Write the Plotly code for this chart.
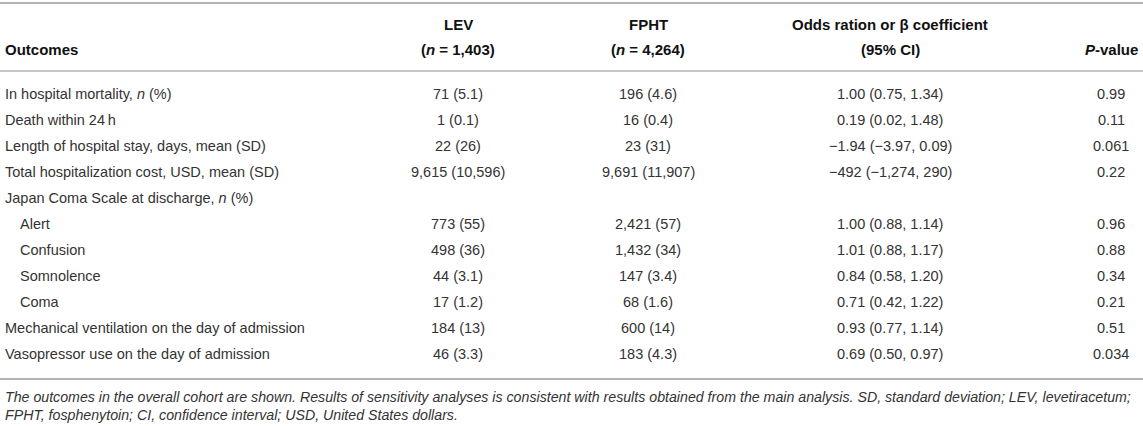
import plotly.graph_objects as go

# table content
outcomes = [
    "In hospital mortality, <i>n</i> (%)",
    "Death within 24\u2009h",
    "Length of hospital stay, days, mean (SD)",
    "Total hospitalization cost, USD, mean (SD)",
    "Japan Coma Scale at discharge, <i>n</i> (%)",
    "Alert",
    "Confusion",
    "Somnolence",
    "Coma",
    "Mechanical ventilation on the day of admission",
    "Vasopressor use on the day of admission",
]
indented = [False, False, False, False, False, True, True, True, True, False, False]

lev = ["71 (5.1)", "1 (0.1)", "22 (26)", "9,615 (10,596)", "",
       "773 (55)", "498 (36)", "44 (3.1)", "17 (1.2)", "184 (13)", "46 (3.3)"]
fpht = ["196 (4.6)", "16 (0.4)", "23 (31)", "9,691 (11,907)", "",
        "2,421 (57)", "1,432 (34)", "147 (3.4)", "68 (1.6)", "600 (14)", "183 (4.3)"]
or_ci = ["1.00 (0.75, 1.34)", "0.19 (0.02, 1.48)", "\u22121.94 (\u22123.97, 0.09)",
         "\u2212492 (\u22121,274, 290)", "",
         "1.00 (0.88, 1.14)", "1.01 (0.88, 1.17)", "0.84 (0.58, 1.20)",
         "0.71 (0.42, 1.22)", "0.93 (0.77, 1.14)", "0.69 (0.50, 0.97)"]
pvals = ["0.99", "0.11", "0.061", "0.22", "", "0.96", "0.88", "0.34", "0.21", "0.51", "0.034"]

header_top = ["", "LEV", "FPHT", "Odds ration or \u03b2 coefficient", ""]
header_bot = ["Outcomes", "(<i>n</i> = 1,403)", "(<i>n</i> = 4,264)", "(95% CI)", "<i>P</i>-value"]

footnote = [
    "The outcomes in the overall cohort are shown. Results of sensitivity analyses is consistent with "
    "results obtained from the main analysis. SD, standard deviation; LEV, levetiracetum;",
    "FPHT, fosphenytoin; CI, confidence interval; USD, United States dollars.",
]

W, H = 1143, 426
col_x = [3, 458, 648, 890, 1111]
row0, row_h = 94, 26
FONT = "Liberation Sans, Arial, Helvetica, sans-serif"
BODY = "#333333"
RULE = "#b3b3b3"

fig = go.Figure()
ann = []

# header
for i in range(5):
    anchor = "left" if i == 0 else "center"
    if header_top[i]:
        ann.append(dict(x=col_x[i], y=24, text="<b>%s</b>" % header_top[i], xanchor=anchor,
                        font=dict(size=15, color="#111111")))
    ann.append(dict(x=col_x[i], y=49, text="<b>%s</b>" % header_bot[i], xanchor=anchor,
                    font=dict(size=15, color="#111111")))

# body rows
for r, name in enumerate(outcomes):
    y = row0 + row_h * r
    ann.append(dict(x=col_x[0] + (15 if indented[r] else 0), y=y, text=name, xanchor="left",
                    font=dict(size=14.5, color=BODY)))
    for c, col in enumerate([lev, fpht, or_ci, pvals], start=1):
        if col[r]:
            ann.append(dict(x=col_x[c], y=y, text=col[r], xanchor="center",
                            font=dict(size=14.5, color=BODY)))

# footnote
for k, line in enumerate(footnote):
    ann.append(dict(x=3, y=397 + 18 * k, text="<i>%s</i>" % line, xanchor="left",
                    font=dict(size=14.2, color=BODY)))

for a in ann:
    a.update(xref="x", yref="y", yanchor="middle", showarrow=False)
    a["font"]["family"] = FONT

shapes = [
    dict(type="line", x0=0, x1=W, y0=3, y1=3, line=dict(color=RULE, width=2)),
    dict(type="line", x0=0, x1=W, y0=71, y1=71, line=dict(color=RULE, width=1.5)),
    dict(type="line", x0=0, x1=W, y0=379, y1=379, line=dict(color=RULE, width=2)),
]
for s in shapes:
    s.update(xref="x", yref="y")

fig.update_layout(
    width=W, height=H,
    margin=dict(l=0, r=0, t=0, b=0),
    paper_bgcolor="white", plot_bgcolor="white",
    xaxis=dict(range=[0, W], visible=False, fixedrange=True),
    yaxis=dict(range=[H, 0], visible=False, fixedrange=True),
    annotations=ann,
    shapes=shapes,
    showlegend=False,
)

# drop the default page margin so the figure sits at the window's top-left corner
fig.write_html("out.html", config={"displayModeBar": False},
               post_script="document.body.style.margin='0';document.body.style.overflow='hidden';")
